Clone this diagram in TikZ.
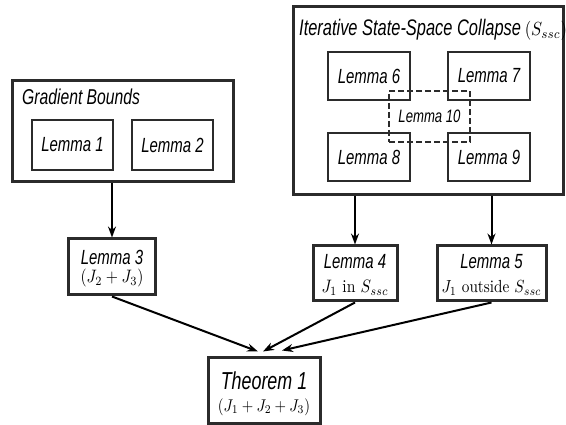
\documentclass[tikz,border=0pt]{standalone}
\usepackage{fontspec}
\newfontfamily\hv{Liberation Sans}[FakeStretch=0.73]
\usetikzlibrary{arrows.meta}
\definecolor{boxgray}{HTML}{2B2B2B}
\newcommand{\nm}[2][1.8]{\scalebox{\fpeval{0.87*#1}}[#1]{\normalfont\normalsize$#2$}}
\tikzset{
  outerbox/.style={draw=boxgray, line width=3pt, inner sep=0pt},
  innerbox/.style={draw=boxgray, line width=2.4pt, inner sep=0pt},
  dashbox/.style={draw=boxgray, line width=1.8pt, dash pattern=on 6pt off 3pt, inner sep=0pt},
  lab/.style={inner sep=0pt, font=\hv\itshape\fontsize{20.5}{20.5}\selectfont},
  ttl/.style={inner sep=0pt, anchor=west, font=\hv\itshape\fontsize{21.5}{21.5}\selectfont},
  mth/.style={inner sep=0pt},
  arr/.style={-{Stealth[length=11pt,width=8pt]}, line width=2pt, black},
}
\begin{document}
\begin{tikzpicture}[x=1pt,y=-1pt]
\useasboundingbox (0,0) rectangle (566,425);
% Gradient Bounds group
\node[outerbox, minimum width=221pt, minimum height=101pt] (gb) at (122.5,131.5) {};
\node[ttl] (gbt) at (22,97) {Gradient Bounds};
\node[innerbox, minimum width=81pt, minimum height=50pt] (l1) at (72.5,145) {};
\node[lab] (l1t) at (l1) {Lemma 1};
\node[innerbox, minimum width=81pt, minimum height=50pt] (l2) at (172.5,145) {};
\node[lab] (l2t) at (l2) {Lemma 2};
% Iterative State-Space Collapse group
\node[outerbox, minimum width=270pt, minimum height=188pt] (it) at (428,101) {};
\node[ttl, font=\hv\itshape\fontsize{22.5}{22.5}\selectfont] (itt) at (299,30) {Iterative State-Space Collapse\,\nm[1.9]{(S_{ssc})}};
\node[innerbox, minimum width=82pt, minimum height=48pt] (l6) at (369,76) {};
\node[lab] (l6t) at (l6) {Lemma 6};
\node[innerbox, minimum width=82pt, minimum height=48pt] (l7) at (489,76) {};
\node[lab] (l7t) at (l7) {Lemma 7};
\node[innerbox, minimum width=82pt, minimum height=48pt] (l8) at (369,157) {};
\node[lab] (l8t) at (l8) {Lemma 8};
\node[innerbox, minimum width=82pt, minimum height=48pt] (l9) at (489,157) {};
\node[lab] (l9t) at (l9) {Lemma 9};
\node[dashbox, minimum width=81pt, minimum height=51pt] (l10) at (429.5,116.5) {};
\node[lab, font=\hv\itshape\fontsize{18}{18}\selectfont] (l10t) at (l10) {Lemma 10};
% Middle lemmas
\node[outerbox, minimum width=87pt, minimum height=56pt] (l3) at (112,267) {};
\node[lab] (l3t) at (112,257) {Lemma 3};
\node[mth] (l3m) at (112,278) {\nm{(J_2+J_3)}};
\node[outerbox, minimum width=84pt, minimum height=55pt] (l4) at (355,273.5) {};
\node[lab] (l4t) at (355,262) {Lemma 4};
\node[mth] (l4m) at (355,288) {\nm{J_1 \mbox{ in } S_{ssc}}};
\node[outerbox, minimum width=109pt, minimum height=55pt] (l5) at (491.5,273.5) {};
\node[lab] (l5t) at (491.5,262) {Lemma 5};
\node[mth] (l5m) at (491.5,288) {\nm[1.75]{J_1 \mbox{ outside } S_{ssc}}};
% Theorem
\node[outerbox, minimum width=112pt, minimum height=65pt] (th) at (264,390.5) {};
\node[lab, font=\hv\itshape\fontsize{24.5}{24.5}\selectfont] (tht) at (264,381) {Theorem 1};
\node[mth] (thm) at (264,407) {\nm[1.7]{(J_1+J_2+J_3)}};
% Arrows
\draw[arr] (l3.north |- gb.south) -- (l3.north);
\draw[arr] (l4.north |- it.south) -- (l4.north);
\draw[arr] (l5.north |- it.south) -- (l5.north);
\draw[arr] (l3.south) -- ([xshift=-6pt,yshift=5pt]th.north);
\draw[arr] (l4.south) -- ([xshift=-1pt,yshift=5pt]th.north);
\draw[arr] (l5.south) -- ([xshift=18pt,yshift=6pt]th.north);
\end{tikzpicture}
\end{document}
